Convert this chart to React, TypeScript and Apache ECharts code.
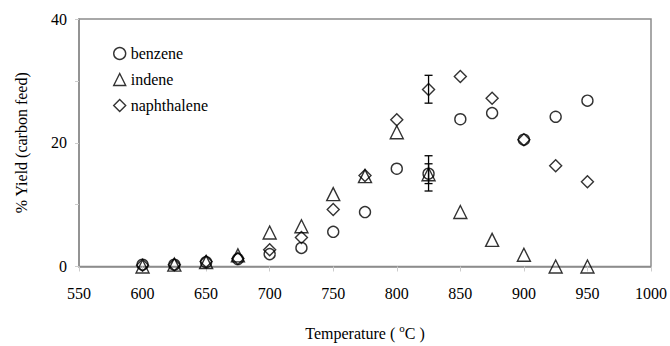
import React, { useEffect, useRef } from "react";
import * as echarts from "echarts";

const temperatures = [600, 625, 650, 675, 700, 725, 750, 775, 800, 825, 850, 875, 900, 925, 950];
const benzene = [0.3, 0.3, 0.7, 1.2, 2.0, 3.0, 5.6, 8.8, 15.8, 15.0, 23.8, 24.8, 20.5, 24.2, 26.8];
const indene = [0.0, 0.3, 0.7, 1.8, 5.5, 6.5, 11.7, 14.6, 21.7, 14.9, 8.8, 4.3, 1.9, 0.0, 0.0];
const naphthalene = [0.2, 0.3, 0.8, 1.3, 2.7, 4.7, 9.2, 14.7, 23.7, 28.6, 30.7, 27.2, 20.5, 16.3, 13.7];
// error bars: [temperature, low, high]
const errorBars = [
  [825, 12.2, 17.9],
  [825, 13.4, 16.6],
  [825, 26.4, 30.9],
];
const seriesNames = ["benzene", "indene", "naphthalene"];

const FONT = "Liberation Serif";

export default function App() {
  const ref = useRef<HTMLDivElement>(null);
  useEffect(() => {
    if (!ref.current) return;
    const chart = echarts.init(ref.current, undefined, { renderer: "svg" });
    const markerStyle = { color: "transparent", borderColor: "#000", borderWidth: 1.4 };
    const mk = (name: string, vals: number[], symbol: string, size: number) => ({
      name,
      type: "scatter",
      symbol,
      symbolSize: size,
      data: temperatures.map((t, i) => [t, vals[i]]),
      itemStyle: markerStyle,
      z: 3,
    });
    chart.setOption({
      animation: false,
      textStyle: { fontFamily: FONT },
      grid: {
        left: 79,
        right: 18,
        top: 19,
        bottom: 76,
        show: true,
        borderColor: "#8c8c8c",
        borderWidth: 1.5,
        backgroundColor: "transparent",
      },
      legend: {
        data: seriesNames,
        orient: "vertical",
        left: 108,
        top: 40,
        itemWidth: 12,
        itemHeight: 12,
        itemGap: 9,
        textStyle: { fontFamily: FONT, fontSize: 16, color: "#000", lineHeight: 17 },
        itemStyle: { color: "transparent", borderColor: "#000", borderWidth: 1.4 },
      },
      xAxis: {
        type: "value",
        min: 550,
        max: 1000,
        interval: 50,
        name: "Temperature ( {sup|o}C )",
        nameLocation: "middle",
        nameGap: 56,
        nameTextStyle: {
          fontFamily: FONT,
          fontSize: 16,
          color: "#000",
          rich: {
            sup: { fontFamily: FONT, fontSize: 11, color: "#000", verticalAlign: "top", padding: [0, 0, 10, 0] },
          },
        },
        axisLine: { lineStyle: { color: "#8c8c8c", width: 1.5 } },
        axisTick: { show: true, inside: false, length: 5, lineStyle: { color: "#cccccc" } },
        axisLabel: {
          fontFamily: FONT,
          fontSize: 16,
          color: "#000",
          margin: 19,
          formatter: (v: number) => String(v),
        },
        splitLine: { show: false },
      },
      yAxis: {
        type: "value",
        min: 0,
        max: 40,
        interval: 10,
        name: "% Yield (carbon feed)",
        nameLocation: "middle",
        nameRotate: 90,
        nameGap: 50,
        nameTextStyle: { fontFamily: FONT, fontSize: 16, color: "#000" },
        axisLine: { show: true, lineStyle: { color: "#8c8c8c", width: 1.5 } },
        axisTick: { show: true, inside: false, length: 4, lineStyle: { color: "#cccccc" } },
        axisLabel: {
          fontFamily: FONT,
          fontSize: 16,
          color: "#000",
          margin: 12,
          formatter: (v: number) => (v % 20 === 0 ? String(v) : ""),
        },
        splitLine: { show: false },
      },
      series: [
        mk("benzene", benzene, "circle", 11),
        mk("indene", indene, "triangle", 13),
        mk("naphthalene", naphthalene, "diamond", 12),
        {
          name: "error",
          type: "custom",
          data: errorBars,
          z: 4,
          renderItem: (params: any, api: any) => {
            const x = api.value(0);
            const lo = api.coord([x, api.value(1)]);
            const hi = api.coord([x, api.value(2)]);
            const hw = 4;
            const style = { stroke: "#000", lineWidth: 1.3 };
            return {
              type: "group",
              children: [
                { type: "line", shape: { x1: lo[0], y1: lo[1], x2: hi[0], y2: hi[1] }, style },
                { type: "line", shape: { x1: lo[0] - hw, y1: lo[1], x2: lo[0] + hw, y2: lo[1] }, style },
                { type: "line", shape: { x1: hi[0] - hw, y1: hi[1], x2: hi[0] + hw, y2: hi[1] }, style },
              ],
            };
          },
        },
      ],
    });
    return () => chart.dispose();
  }, []);
  return <div ref={ref} style={{ width: 670, height: 346, position: "absolute", left: 0, top: 0 }} />;
}
